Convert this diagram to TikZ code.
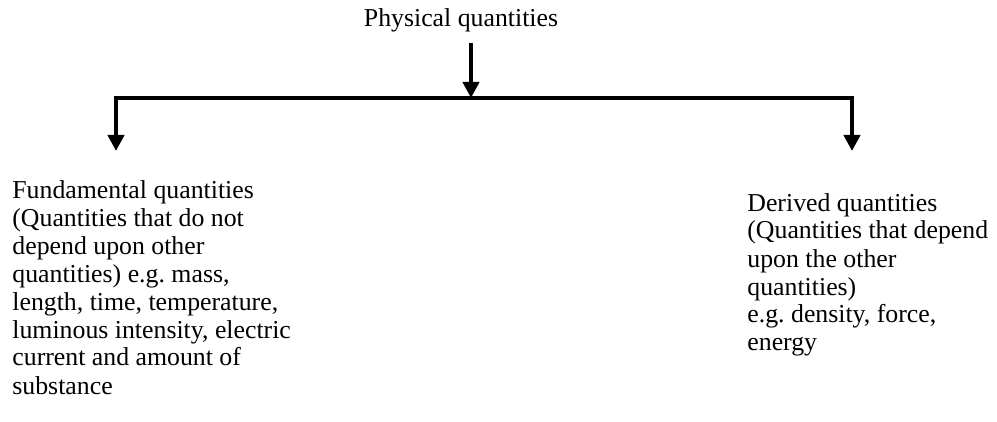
\documentclass[tikz,border=0pt]{standalone}
\usepackage{fontspec}
\setmainfont{Liberation Serif}
\usetikzlibrary{arrows.meta}
\frenchspacing
\begin{document}
\begin{tikzpicture}[x=0.5pt, y=-0.5pt,
    conn/.style={line width=2pt, line join=miter},
    arr/.style={-{Triangle[width=8pt,length=8pt]}},
    label/.style={inner sep=0pt, font=\fontsize{12.9}{14}\selectfont, align=left}]
    \useasboundingbox (0,0) rectangle (997,422);

    % Title and the two branches (base = last line)
    \node[label, anchor=base] (phys) at (461,27) {Physical quantities};
    \node[label, anchor=base west] (fund) at (12,394) {Fundamental quantities\\(Quantities that do not\\depend upon other\\quantities) e.g. mass,\\length, time, temperature,\\luminous intensity, electric\\current and amount of\\substance};
    \node[label, anchor=base west] (der) at (747,351) {Derived quantities\\(Quantities that depend\\upon the other\\quantities)\\e.g. density, force,\\energy};

    % Points on the connectors
    \coordinate (top) at (471,43);
    \coordinate (split) at (471,98);
    \coordinate (ltip) at (116,151);
    \coordinate (rtip) at (852,151);

    % Draw the arrows
    \draw[conn, arr] (top) -- (split);
    \draw[conn, {Triangle[width=8pt,length=8pt]}-{Triangle[width=8pt,length=8pt]}] (ltip) |- (split) -| (rtip);
\end{tikzpicture}
\end{document}
